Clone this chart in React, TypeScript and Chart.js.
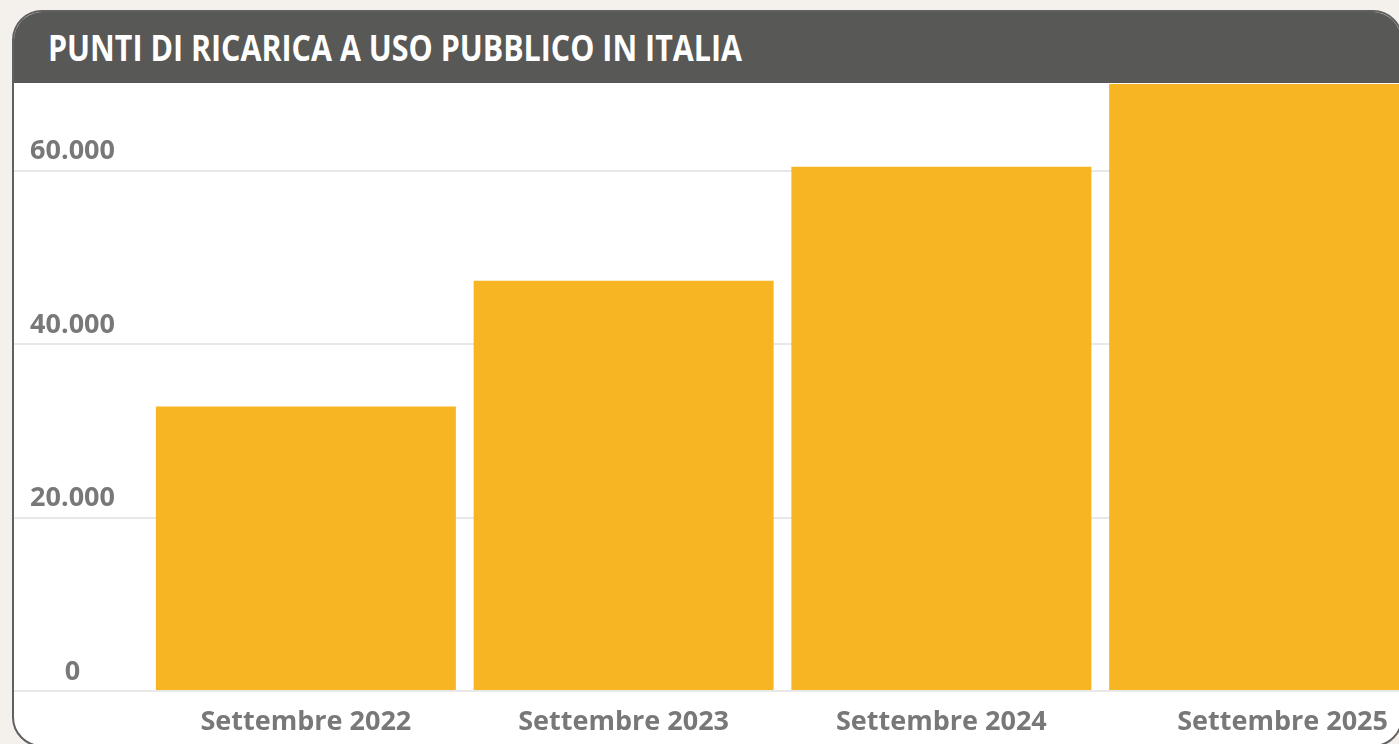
import React, { useEffect, useRef } from 'react';
import { Chart, registerables } from 'chart.js';

Chart.register(...registerables);

const TITLE = 'PUNTI DI RICARICA A USO PUBBLICO IN ITALIA';
const categories = ['Settembre 2022', 'Settembre 2023', 'Settembre 2024', 'Settembre 2025'];
const values = [32800, 47300, 60450, 70200];
const yTicks = [0, 20000, 40000, 60000];
const yMax = 70000;

function fmt(v: number): string {
  return String(v).replace(/\B(?=(\d{3})+(?!\d))/g, '.');
}

const LABEL_FONT = '"Open Sans", "DejaVu Sans", sans-serif';
const LABEL_COLOR = '#787878';

function makeXLabelPlugin(getVisibleWidth: () => number) {
  return {
    id: 'xLabels',
    afterDraw(chart: any) {
      const { ctx, chartArea } = chart;
      const x = chart.scales.x;
      const visibleW = getVisibleWidth();
      const maxRight = visibleW - 13;
      const band = (chartArea.right - chartArea.left) / categories.length;
      ctx.save();
      ctx.font = `bold 27px ${LABEL_FONT}`;
      ctx.fillStyle = LABEL_COLOR;
      ctx.textAlign = 'center';
      ctx.textBaseline = 'middle';
      categories.forEach((c, i) => {
        const w = ctx.measureText(c).width;
        let px = x.getPixelForValue(i);
        if (px + band / 2 > visibleW) {
          // category partly hidden: align the label to the visible right edge
          px = maxRight - w / 2;
        }
        ctx.fillText(c, px, chartArea.bottom + 31);
      });
      ctx.restore();
    },
  };
}

export default function App() {
  const canvasRef = useRef<HTMLCanvasElement>(null);
  const titleRef = useRef<HTMLSpanElement>(null);
  const cardRef = useRef<HTMLDivElement>(null);

  useEffect(() => {
    const t = titleRef.current;
    if (t) {
      t.style.transform = 'none';
      const w = t.getBoundingClientRect().width;
      if (w > 0) t.style.transform = `scaleX(${694 / w})`;
    }
    const canvas = canvasRef.current;
    if (!canvas) return;
    const getVisibleWidth = () => (cardRef.current ? cardRef.current.clientWidth : canvas.width);
    const chart = new Chart(canvas, {
      type: 'bar',
      data: {
        labels: categories,
        datasets: [
          {
            data: values,
            backgroundColor: '#F7B423',
            borderWidth: 0,
            barPercentage: 0.944,
            categoryPercentage: 1,
          },
        ],
      },
      options: {
        responsive: false,
        animation: false,
        devicePixelRatio: 1,
        layout: { padding: { top: 1, left: 0, right: 0, bottom: 0 } },
        plugins: {
          legend: { display: false },
          tooltip: { enabled: false },
          title: { display: false },
        },
        scales: {
          x: {
            type: 'category',
            offset: true,
            grid: { display: false },
            border: { display: false },
            ticks: { display: false },
            afterFit: (s: any) => {
              s.height = 54;
            },
          },
          y: {
            min: 0,
            max: yMax,
            afterBuildTicks: (s: any) => {
              s.ticks = yTicks.map((v) => ({ value: v }));
            },
            ticks: {
              crossAlign: 'center',
              padding: -101,
              labelOffset: -19,
              color: LABEL_COLOR,
              font: { family: LABEL_FONT, weight: 'bold', size: 27 },
              callback: (v: any) => fmt(Number(v)),
            },
            grid: {
              color: '#e8e8e8',
              lineWidth: 2,
              drawTicks: true,
              tickLength: 133,
              tickColor: '#e8e8e8',
            },
            border: { display: false },
            afterFit: (s: any) => {
              s.width = 133;
              s.paddingTop = 0;
              s.paddingBottom = 0;
            },
          },
        },
      } as any,
      plugins: [makeXLabelPlugin(getVisibleWidth)],
    });
    return () => chart.destroy();
  }, []);

  return (
    <div
      style={{
        position: 'fixed',
        left: 0,
        top: 0,
        width: 1399,
        height: 744,
        overflow: 'hidden',
        background: '#f4f1ed',
      }}
    >
      <div
        ref={cardRef}
        style={{
          position: 'absolute',
          left: 12,
          top: 10,
          width: 1391,
          height: 737,
          boxSizing: 'border-box',
          border: '2px solid #606060',
          borderRadius: 30,
          overflow: 'hidden',
          background: '#ffffff',
        }}
      >
        <div
          style={{
            position: 'absolute',
            left: 0,
            top: 0,
            right: 0,
            height: 71,
            background: '#585856',
          }}
        >
          <span
            ref={titleRef}
            style={{
              position: 'absolute',
              left: 34,
              top: 18,
              font: `700 36px ${LABEL_FONT}`,
              lineHeight: '36px',
              color: '#ffffff',
              whiteSpace: 'nowrap',
              transformOrigin: 'left center',
            }}
          >
            {TITLE}
          </span>
        </div>
        <div style={{ position: 'absolute', left: 0, top: 71, width: 1404, height: 662 }}>
          <canvas ref={canvasRef} width={1404} height={662} style={{ display: 'block' }} />
        </div>
      </div>
    </div>
  );
}
